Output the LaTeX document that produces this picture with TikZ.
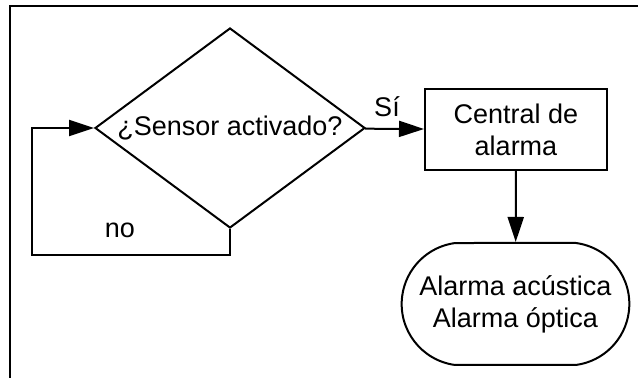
\documentclass[tikz,border=0pt]{standalone}
\usepackage{fontspec}
\setmainfont{Liberation Sans}
\usetikzlibrary{shapes.geometric}
\usetikzlibrary{shapes.misc}
\usetikzlibrary{arrows.meta}

\begin{document}
\begin{tikzpicture}[x=0.5pt,y=-0.5pt,>={Triangle[length=12.5pt,width=8pt]},line width=1pt,
    font=\fontsize{13.5}{16}\selectfont,
    decision node/.style={diamond,draw,shape aspect=1.35,inner sep=0pt,minimum width=135pt,minimum height=100pt},
    box node/.style={rectangle,draw,align=center,minimum width=91pt,minimum height=40.5pt},
    end node/.style={rounded rectangle,rounded rectangle arc length=165,draw,align=center,minimum width=120.5pt,minimum height=61pt},
    text node/.style={inner sep=0pt}]
  \useasboundingbox (0,0) rectangle (638,378);
  % frame
  \draw[line width=1.3pt] (638,6) -- (10,6) -- (10,378);
  \begin{scope}
    \node[decision node] (sensor) at (230,128) {¿Sensor activado?};
    \node[box node] (central) at (516,129.5) {Central de\\alarma};
    \node[end node] (alarmas) at (515.5,304) {Alarma acústica\\Alarma óptica};
    \coordinate (loop) at (32,255);
    \node[text node] (si) at (387,107) {Sí};
    \node[text node] (no) at (120,230) {no};
    \path[->] (sensor) edge (central);
    \path[->] (central) edge (alarmas);
    \draw[->] (sensor.south) |- (loop) |- (sensor.west);
  \end{scope}
\end{tikzpicture}
\end{document}
